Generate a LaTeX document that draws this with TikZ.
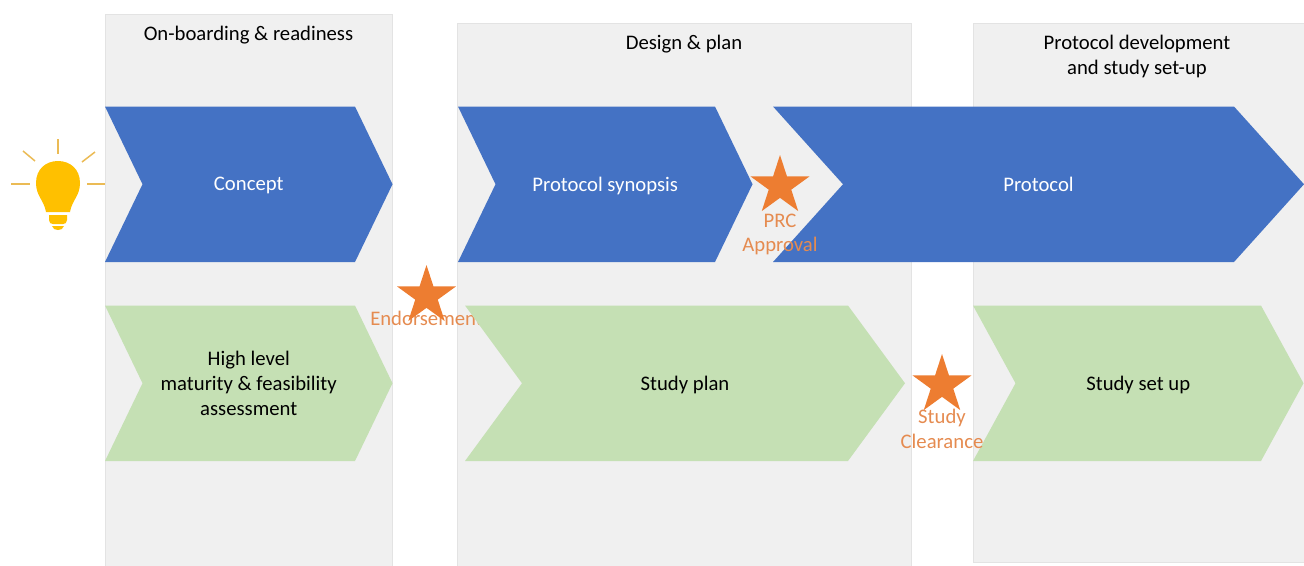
\documentclass[tikz,border=0pt]{standalone}
\usepackage{fontspec}
\setmainfont{Carlito}
\usetikzlibrary{shapes.geometric, positioning}

\definecolor{panelgrey}{HTML}{F0F0F0}
\definecolor{panelline}{HTML}{E3E3E3}
\definecolor{chevblue}{HTML}{4472C4}
\definecolor{chevgreen}{HTML}{C5E0B4}
\definecolor{staorange}{HTML}{ED7D31}
\definecolor{stalabel}{HTML}{E58B50}
\definecolor{bulbyellow}{HTML}{FFC000}
\definecolor{bulbray}{HTML}{EBBB55}

\tikzset{
	panelbox/.style={draw=panelline, fill=panelgrey, line width=1pt},
	medal/.style={star, star points=5, star point ratio=2.618, fill=staorange, draw=none, inner sep=0pt, minimum size=62pt},
	medaltext/.style={text=stalabel, align=center, inner sep=0pt, font=\fontsize{20.7}{24.5}\selectfont},
	headtext/.style={align=center, inner sep=0pt, text depth=0pt, font=\fontsize{20.7}{25}\selectfont},
	bulbline/.style={draw=bulbray, line width=1.5pt}
}

\begin{document}
\begin{tikzpicture}[x=1pt, y=-1pt]
	
	% geometry
	\def\h{155.5}
	
	\newcommand{\chevshape}[8]{%
		\begin{scope}[shift={(#2,#3)}]
			\path[fill=#6] (0,0) -- (#4,0) -- (#4+#5,0.5*\h) -- (#4,\h) -- (0,\h) -- (#5,0.5*\h) -- cycle;
		\end{scope}
		\node[headtext, text=#7] (#1) at (#2+#4/2+#5/2,#3+0.5*\h) {#8};
	}
	\useasboundingbox (0,0) rectangle (1304,565);
	
	% panels
	\path[panelbox] (105,14) rectangle (392,570);
	\path[panelbox] (457.5,23) rectangle (911,570);
	\path[panelbox] (973,23) -- (1310,23) -- (1310,562) -- (973,562) -- cycle;
	\node[headtext] (boardinghead) at (248.5,33) {On-boarding \& readiness};
	\node[headtext] (designhead) at (684,42) {Design \& plan};
	\node[headtext, anchor=north] (protocolhead) at (1137,35) {Protocol development\\and study set-up};
	
	% this one stays behind the study plan
	\node[medaltext] (endorselabel) at (426.5,318) {Endorsement};
	
	% chevrons
	\chevshape{concept}{105}{106.5}{250}{37.5}{chevblue}{white}{Concept}
	\chevshape{synopsis}{458}{106.5}{257}{37.5}{chevblue}{white}{Protocol synopsis}
	\chevshape{protocol}{773}{106.5}{461}{70}{chevblue}{white}{Protocol}
	\chevshape{assess}{105}{305.5}{250}{37.5}{chevgreen}{black}{High level\\maturity \& feasibility\\assessment}
	\chevshape{plan}{465}{305.5}{383}{57}{chevgreen}{black}{Study plan}
	\chevshape{setup}{973}{305.5}{288}{42.5}{chevgreen}{black}{Study set up}
	
	% milestones
	\node[medal] (endorsestar) at (426.5,296) {};
	\node[medal] (prcstar) at (780,186) {};
	\node[medaltext] (prclabel) at (780,234.5) {PRC\\Approval};
	\node[medal] (clearstar) at (942,385) {};
	\node[medaltext] (clearlabel) at (942,429) {Study\\Clearance};
	
	% bulb
	\path[bulbline] (58,139) -- (58,154);
	\path[bulbline] (23,151) -- (35,161);
	\path[bulbline] (95,152) -- (82,162);
	\path[bulbline] (11,184) -- (30,184);
	\path[bulbline] (87,184) -- (105,184);
	\path[fill=bulbyellow] (46,212) .. controls (44,200) and (36,196) .. (36,183)
		.. controls (36,169) and (46,161) .. (58,161)
		.. controls (70,161) and (80,169) .. (80,183)
		.. controls (80,196) and (72,200) .. (70,212) -- cycle;
	\path[fill=bulbyellow] (49,215) -- (67,215) -- (67,220) .. controls (67,223) and (65,224) .. (63,224) -- (53,224) .. controls (51,224) and (49,223) .. (49,220) -- cycle;
	\path[fill=bulbyellow] (52,226) -- (64,226) .. controls (63,229) and (61,230) .. (58,230) .. controls (55,230) and (53,229) .. (52,226) -- cycle;
	
\end{tikzpicture}
\end{document}
